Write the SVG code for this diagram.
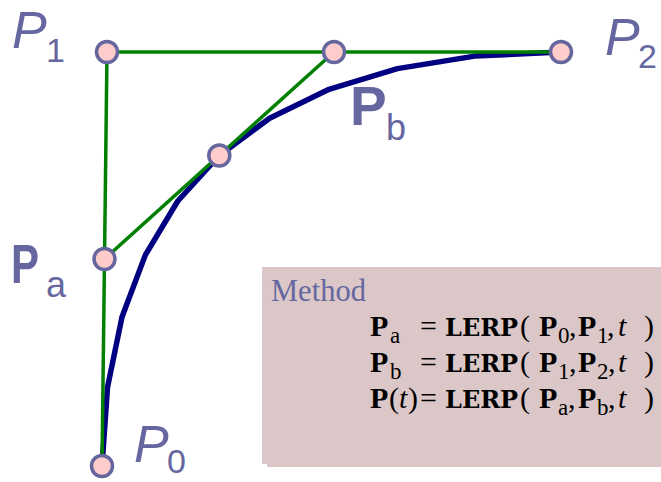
<svg xmlns="http://www.w3.org/2000/svg" width="661" height="482" viewBox="0 0 661 482">
<style>
.ctl{stroke:#008000;stroke-width:3.5;fill:none}
.crv{stroke:#000080;stroke-width:5.5;fill:none;stroke-linejoin:round;stroke-linecap:round}
.pt{fill:#FFCCCC;stroke:#66669E;stroke-width:3.5}
.lbl{font-family:"Liberation Sans",Arial,sans-serif;fill:#6666A0}
.it{font-style:italic}
.bd{font-weight:bold}
.box{fill:#DBC7C7}
.eq{font-family:"Liberation Serif","Times New Roman",serif;font-size:30px;fill:#000}
.mono{font-family:"DejaVu Serif",serif;font-weight:bold;font-size:24px}
.sub{font-size:23px;font-weight:normal}
</style>
<rect width="661" height="482" fill="#fff"/>
<g id="method-box">
<rect class="box" x="267" y="272" width="394" height="195"/>
<rect class="box" x="262" y="267" width="399" height="197"/>
<text x="271" y="301" font-family="Liberation Serif,'Times New Roman',serif" font-size="30.5" fill="#6666A0">Method</text>
<text class="eq">
<tspan x="370" y="336" font-weight="bold">P</tspan><tspan class="sub" x="390" y="343">a</tspan><tspan x="420" y="336">=</tspan><tspan class="mono" x="445" y="336">LERP</tspan><tspan x="520" y="336">(</tspan><tspan x="539" y="336" font-weight="bold">P</tspan><tspan class="sub" x="558" y="343">0</tspan><tspan x="569" y="336">,</tspan><tspan x="578" y="336" font-weight="bold">P</tspan><tspan class="sub" x="597" y="343">1</tspan><tspan x="607" y="336">,</tspan><tspan x="618" y="336" font-style="italic">t</tspan><tspan x="644" y="336">)</tspan>
</text>
<text class="eq">
<tspan x="370" y="372" font-weight="bold">P</tspan><tspan class="sub" x="390" y="379">b</tspan><tspan x="420" y="372">=</tspan><tspan class="mono" x="445" y="372">LERP</tspan><tspan x="520" y="372">(</tspan><tspan x="539" y="372" font-weight="bold">P</tspan><tspan class="sub" x="558" y="379">1</tspan><tspan x="569" y="372">,</tspan><tspan x="578" y="372" font-weight="bold">P</tspan><tspan class="sub" x="597" y="379">2</tspan><tspan x="608" y="372">,</tspan><tspan x="618" y="372" font-style="italic">t</tspan><tspan x="644" y="372">)</tspan>
</text>
<text class="eq">
<tspan x="370" y="408" font-weight="bold">P</tspan><tspan x="389" y="408">(</tspan><tspan x="399" y="408" font-style="italic">t</tspan><tspan x="408" y="408">)</tspan><tspan x="420" y="408">=</tspan><tspan class="mono" x="445" y="408">LERP</tspan><tspan x="520" y="408">(</tspan><tspan x="539" y="408" font-weight="bold">P</tspan><tspan class="sub" x="558" y="415">a</tspan><tspan x="568" y="408">,</tspan><tspan x="578" y="408" font-weight="bold">P</tspan><tspan class="sub" x="597" y="415">b</tspan><tspan x="608" y="408">,</tspan><tspan x="618" y="408" font-style="italic">t</tspan><tspan x="644" y="408">)</tspan>
</text>
</g>
<g id="connectors">
<polyline class="crv" points="102,466 107.5,387.3 122,317 145.4,254.9 177.8,201 219.3,155.5 269.6,118.2 329,89.3 397.4,68.6 474.7,56.1 561,52"/>
<line class="ctl" x1="102" y1="466" x2="107" y2="52"/>
<line class="ctl" x1="107" y1="52" x2="561" y2="52"/>
<line class="ctl" x1="104.5" y1="259" x2="334" y2="52"/>
</g>
<g id="P0"><circle class="pt" cx="102" cy="466" r="10.5"/><text class="lbl it" x="134" y="462" font-size="52">P</text><text class="lbl" x="167" y="473" font-size="34">0</text></g>
<g id="P1"><circle class="pt" cx="107" cy="52" r="10.5"/><text class="lbl it" x="12" y="48" font-size="52">P</text><text class="lbl" x="46" y="62" font-size="34">1</text></g>
<g id="P2"><circle class="pt" cx="561" cy="52" r="10.5"/><text class="lbl it" x="605" y="55" font-size="52">P</text><text class="lbl" x="638" y="68" font-size="34">2</text></g>
<g id="Pa"><circle class="pt" cx="104.5" cy="259" r="10.5"/><text class="lbl bd" x="11" y="283" font-size="55" textLength="28" lengthAdjust="spacingAndGlyphs">P</text><text class="lbl" x="46" y="297" font-size="36">a</text></g>
<g id="Pb"><circle class="pt" cx="334" cy="52" r="10.5"/><text class="lbl bd" x="350" y="125" font-size="55">P</text><text class="lbl" x="386" y="140" font-size="36">b</text></g>
<g id="Pmid"><circle class="pt" cx="219.3" cy="155.5" r="10.5"/></g>
</svg>
